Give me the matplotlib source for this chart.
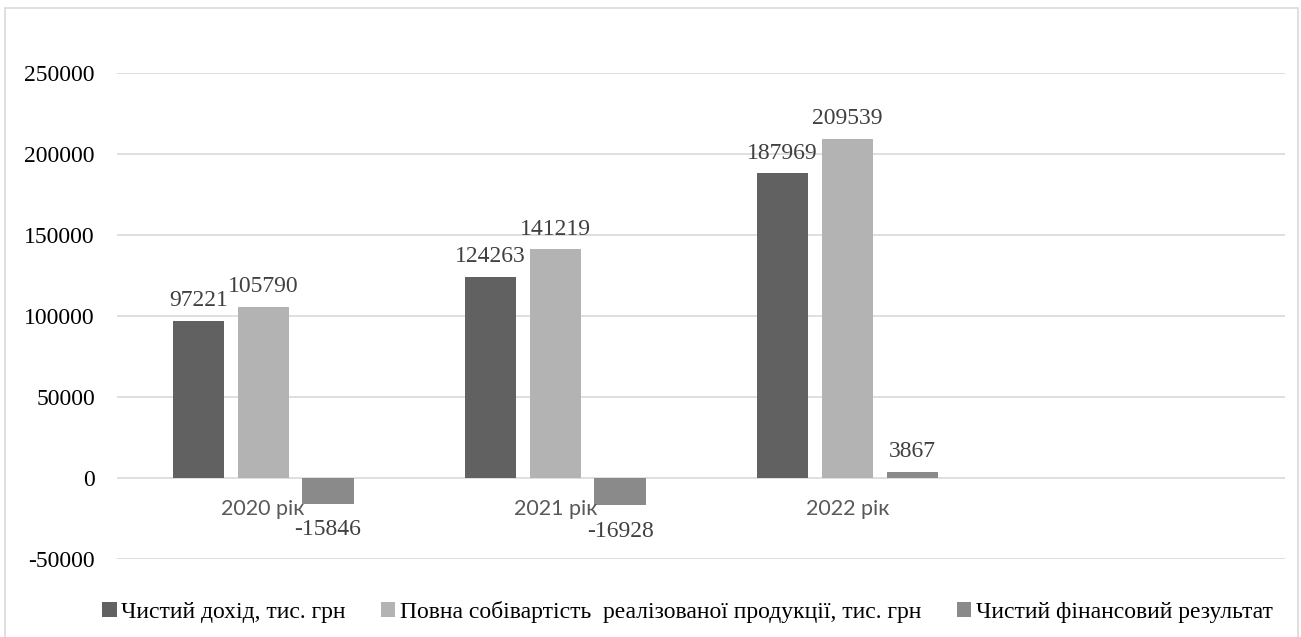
import matplotlib.pyplot as plt
import matplotlib.patches as patches
import numpy as np

# Дані (тис. грн)
years = ['2020 рік', '2021 рік', '2022 рік']
income = [97221, 124263, 187969]           # Чистий дохід
cost = [105790, 141219, 209539]            # Повна собівартість
result = [-15846, -16928, 3867]            # Чистий фінансовий результат

series_names = ['Чистий дохід, тис. грн',
                'Повна собівартість  реалізованої продукції, тис. грн',
                'Чистий фінансовий результат']
colors = ['#616161', '#b3b3b3', '#8a8a8a']

serif = ['Liberation Serif', 'DejaVu Serif']

fig = plt.figure(figsize=(13.01, 6.37), dpi=100)
ax = fig.add_axes([0.090, 1 - 559 / 637, 0.898, (559 - 73) / 637])

# рамка діаграми
fig.patches.append(patches.Rectangle((5 / 1301, -0.05), 1293 / 1301, 1.05 - 8 / 637,
                                     transform=fig.transFigure, fill=False,
                                     edgecolor='#d9d9d9', linewidth=1.2))

x = np.arange(len(years))
w = 0.175
off = 0.222
all_series = [income, cost, result]
for k, (vals, c, name) in enumerate(zip(all_series, colors, series_names)):
    pos = x + (k - 1) * off
    ax.bar(pos, vals, width=w, color=c, label=name, zorder=3)
    for p, v in zip(pos, vals):
        if v >= 0:
            ax.annotate(str(v), (p, v), xytext=(0, 7), textcoords='offset points',
                        ha='center', va='bottom', fontsize=17, color='#404040',
                        family=serif)
        else:
            ax.annotate(str(v), (p, v), xytext=(0, -11), textcoords='offset points',
                        ha='center', va='top', fontsize=17, color='#404040',
                        family=serif)

# підписи категорій біля нульової лінії
for i, y in enumerate(years):
    ax.annotate(y, (i, 0), xytext=(0, -15), textcoords='offset points',
                ha='center', va='top', fontsize=15.5, color='#595959', family='Lato')

ax.set_xlim(-0.5, 3.5)
ax.set_ylim(-50000, 250000)
ax.set_yticks(np.arange(-50000, 250001, 50000))
ax.set_yticklabels([str(t) for t in range(-50000, 250001, 50000)],
                   fontsize=17, family=serif, color='#000000')
ax.tick_params(axis='y', length=0, pad=16)
ax.set_xticks([])
ax.grid(axis='y', color='#d9d9d9', linewidth=1.2, zorder=0)
for s in ax.spines.values():
    s.set_visible(False)

fig.legend(loc='center', bbox_to_anchor=(0.5285, 0.04), ncol=3, frameon=False,
           prop={'family': serif, 'size': 17}, handlelength=0.6, handleheight=0.6,
           handletextpad=0.2, columnspacing=1.5)

fig.savefig('out.png', dpi=100)
